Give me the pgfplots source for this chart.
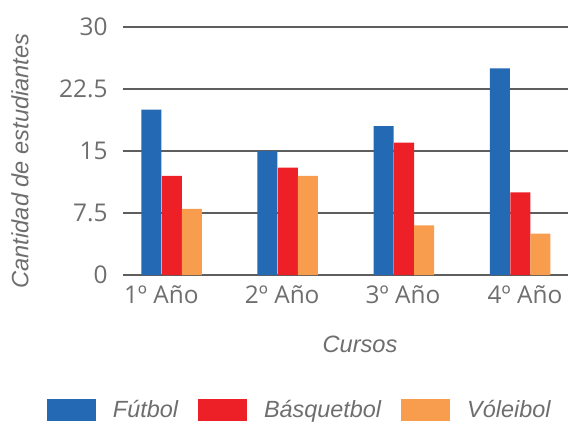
\documentclass[border=0pt]{standalone}
\usepackage{fontspec}
\setmainfont{Liberation Sans}
\newfontfamily\opensans{Open Sans}
\usepackage{pgfplots}
\pgfplotsset{compat=1.18}
\definecolor{cblue}{HTML}{2369B3}
\definecolor{cred}{HTML}{ED2027}
\definecolor{corange}{HTML}{F89D4E}
\definecolor{cgrid}{HTML}{5E5E5E}
\definecolor{ctext}{HTML}{6E6E6E}
\begin{document}
\begin{tikzpicture}
\path[use as bounding box] (-123bp,-147bp) rectangle (445bp,275bp);
\begin{axis}[
  at={(0,0)}, anchor=south west,
  scale only axis, width=445bp, height=248bp,
  xmin=-0.42, xmax=3.41, ymin=0, ymax=30,
  ytick={0,7.5,15,22.5,30}, yticklabels={0,7.5,15,22.5,30},
  xtick={-0.09,0.95,1.99,3.04},
  xticklabels={1º Año,2º Año,3º Año,4º Año},
  /pgf/number format/assume math mode=true,
  ticklabel style={font=\opensans\fontsize{24.5}{28}\selectfont, text=ctext},
  yticklabel style={xshift=-12bp},
  xticklabel style={yshift=-3bp},
  axis line style={draw=none},
  tick style={draw=none},
  ymajorgrids,
  major grid style={draw=cgrid, line width=1.2bp},
  ylabel={Cantidad de estudiantes},
  xlabel={Cursos},
  label style={font=\itshape\fontsize{23.7}{27}\selectfont, text=ctext},
  ylabel style={at={(axis description cs:-0.2315,0.4597)}, anchor=center, rotate=0},
  xlabel style={at={(axis description cs:0.5326,-0.278)}, anchor=center},
  ybar, bar width=20bp,
  legend columns=-1,
  legend image code/.code={\path[#1,draw=none] (0bp,-11bp) rectangle (49bp,11bp);},
  legend style={at={(axis description cs:-0.1708,-0.544)}, anchor=west, draw=none, fill=none,
    inner sep=0pt, outer sep=0pt,
    font=\itshape\fontsize{23.5}{27}\selectfont, text=ctext,
    nodes={inner sep=0pt},
    /tikz/every odd column/.append style={column sep=17bp},
    /tikz/every even column/.append style={column sep=20bp}},
]
\addplot[fill=cblue, draw=none, bar shift=-20.5bp] coordinates {(0,20) (1,15) (2,18) (3,25)};
\addplot[fill=cred, draw=none, bar shift=0bp] coordinates {(0,12) (1,13) (2,16) (3,10)};
\addplot[fill=corange, draw=none, bar shift=20bp] coordinates {(0,8) (1,12) (2,6) (3,5)};
\legend{Fútbol, Básquetbol, Vóleibol}
\end{axis}
\end{tikzpicture}
\end{document}
